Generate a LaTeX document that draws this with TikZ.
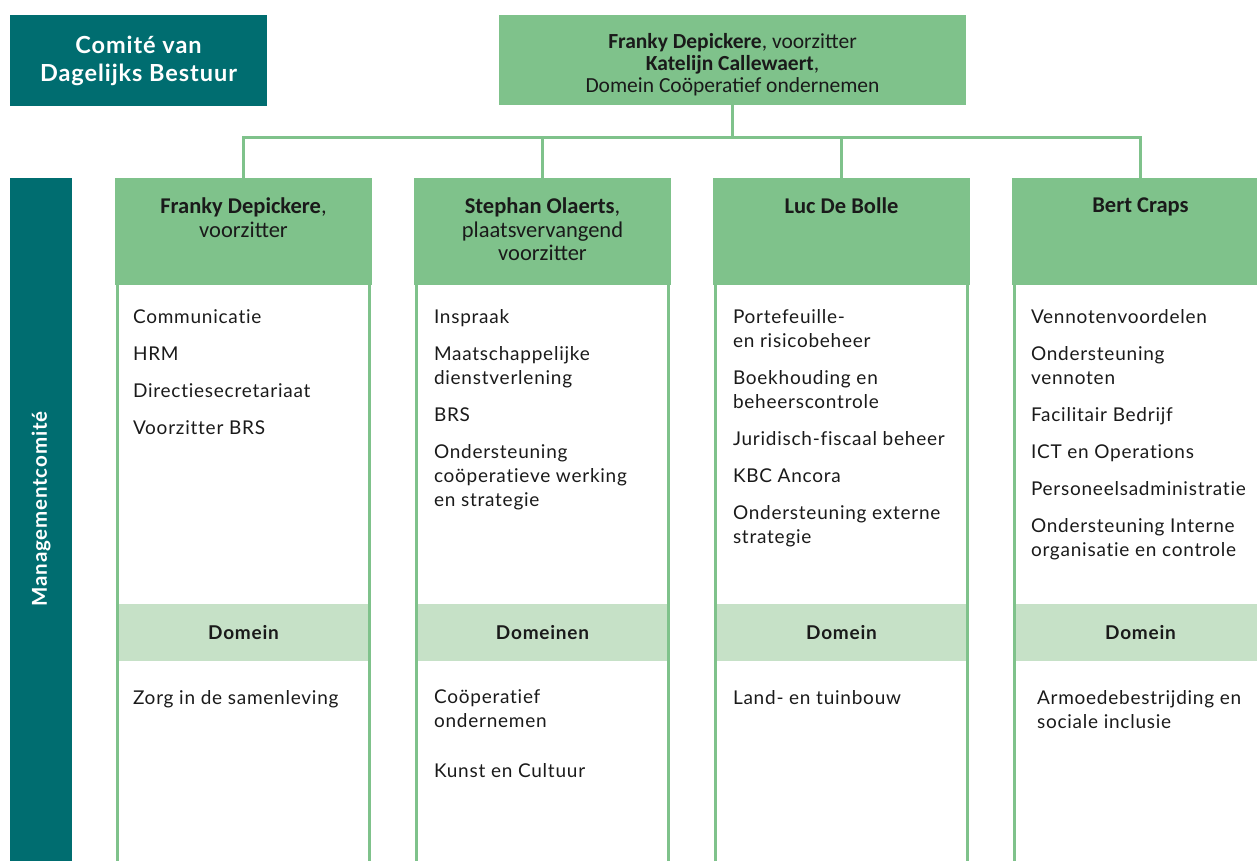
\documentclass[tikz,border=0pt]{standalone}
\usepackage{fontspec}
\setmainfont{Lato}[Ligatures=NoCommon, LetterSpace=4]
\newfontfamily\hdfont{Carlito}
\usetikzlibrary{positioning}
\definecolor{kbteal}{HTML}{006D70}
\definecolor{kbgreen}{HTML}{7FC28B}
\definecolor{kblight}{HTML}{C6E1C7}
\definecolor{kbtext}{HTML}{1A1A1A}

\begin{document}
\begin{tikzpicture}[x=1pt, y=-1pt, every node/.style={inner sep=0pt, outer sep=0pt, text=kbtext},
	tealbox/.style={rectangle, fill=kbteal, text=white, align=center, font=\bfseries\fontsize{23.5}{28}\selectfont},
	headbox/.style={rectangle, fill=kbgreen, minimum width=257pt, minimum height=107pt},
	headtext/.style={align=center, font=\hdfont\fontsize{22.5}{23.5}\selectfont},
	itemtext/.style={anchor=north west, align=left, font=\fontsize{19}{24}\selectfont},
	domband/.style={rectangle, fill=kblight, minimum width=252pt, minimum height=57pt, font=\bfseries\fontsize{19}{20}\selectfont},
	colline/.style={draw=kbgreen, line width=3pt}]
				\useasboundingbox (0,0) rectangle (1257,861);
				\clip (0,0) rectangle (1257,861);
				
				\node[tealbox, minimum width=257pt, minimum height=91pt] (cdb) at (138.5,60.5){Comité van\\Dagelijks Bestuur};
				\node[rectangle, fill=kbgreen, minimum width=467pt, minimum height=90pt] (voorz) at (732.5,60){};
				\node[align=center, font=\hdfont\fontsize{21.5}{22}\selectfont] (voorztxt) at ([yshift=-5pt]voorz.center){\textbf{Franky Depickere}, voorzitter\\\textbf{Katelijn Callewaert},\\Domein Coöperatief ondernemen};
				
				\node[tealbox, minimum width=62pt, minimum height=700pt, anchor=north] (mcbar) at (41,178){};
				\node[rotate=90, text=white, font=\bfseries\fontsize{20.5}{24}\selectfont] (mctext) at (41,509){Managementcomité};
				
				% koppen
				\node[headbox] (h1) at (243.5,231.5){};
				\node[headbox] (h2) at (542.5,231.5){};
				\node[headbox] (h3) at (841.5,231.5){};
				\node[headbox] (h4) at (1140.5,231.5){};
				\node[headtext, below=20pt of h1.north] (n1){\textbf{Franky Depickere},\\voorzitter};
				\node[headtext, below=20pt of h2.north] (n2){\textbf{Stephan Olaerts},\\plaatsvervangend\\voorzitter};
				\node[headtext, below=20pt of h3.north] (n3){\textbf{Luc De Bolle}};
				\node[headtext, below=20pt of h4.north] (n4){\textbf{Bert Craps}};
				
				\path (voorz.south) ++(0,33) coordinate (bus);
				\draw[colline] (voorz.south) -- (bus);
				\draw[colline] (bus) -| (h1.north);
				\draw[colline] (bus) -| (h2.north);
				\draw[colline] (bus) -| (h3.north);
				\draw[colline] (bus) -| (h4.north);
				
				% domeinbalken
				\node[domband] (d1) at (243.5,632.5){Domein};
				\node[domband] (d2) at (542.5,632.5){Domeinen};
				\node[domband] (d3) at (841.5,632.5){Domein};
				\node[domband] (d4) at (1140.5,632.5){Domein};
				
				\draw[colline] ([xshift=2.5pt]h1.south west) -- ++(0,600);
				\draw[colline] ([xshift=-2.5pt]h1.south east) -- ++(0,600);
				\draw[colline] ([xshift=2.5pt]h2.south west) -- ++(0,600);
				\draw[colline] ([xshift=-2.5pt]h2.south east) -- ++(0,600);
				\draw[colline] ([xshift=2.5pt]h3.south west) -- ++(0,600);
				\draw[colline] ([xshift=-2.5pt]h3.south east) -- ++(0,600);
				\draw[colline] ([xshift=2.5pt]h4.south west) -- ++(0,600);
				\draw[colline] ([xshift=-2.5pt]h4.south east) -- ++(0,600);
				
				% taken
				\node[itemtext] (t1) at (133,310){Communicatie\\[13pt]HRM\\[13pt]Directiesecretariaat\\[13pt]Voorzitter BRS};
				\node[itemtext] (t2) at (434,310){Inspraak\\[13pt]Maatschappelijke\\dienstverlening\\[13pt]BRS\\[13pt]Ondersteuning\\coöperatieve werking\\en strategie};
				\node[itemtext] (t3) at (733,310){Portefeuille-\\en risicobeheer\\[13pt]Boekhouding en\\beheerscontrole\\[13pt]Juridisch-fiscaal beheer\\[13pt]KBC Ancora\\[13pt]Ondersteuning externe\\strategie};
				\node[itemtext] (t4) at (1031,310){Vennotenvoordelen\\[13pt]Ondersteuning\\vennoten\\[13pt]Facilitair Bedrijf\\[13pt]ICT en Operations\\[13pt]Personeelsadministratie\\[13pt]Ondersteuning Interne\\organisatie en controle};
				
				\node[itemtext] (e1) at (133,690){Zorg in de samenleving};
				\node[itemtext] (e2) at (434,690){Coöperatief\\ondernemen\\[26pt]Kunst en Cultuur};
				\node[itemtext] (e3) at (733,690){Land- en tuinbouw};
				\node[itemtext] (e4) at (1037,690){Armoedebestrijding en\\sociale inclusie};
				\end{tikzpicture}
\end{document}
